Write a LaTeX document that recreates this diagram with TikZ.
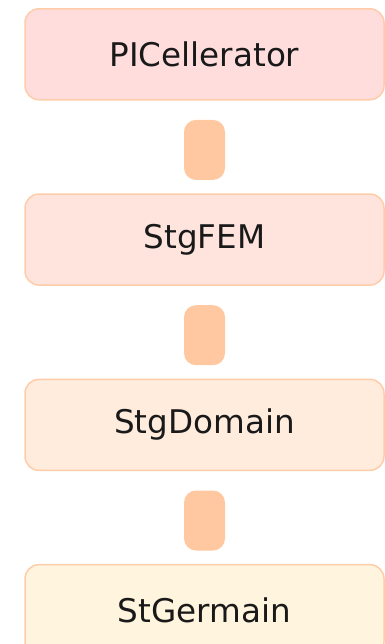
\documentclass[tikz,border=0pt]{standalone}
\usepackage{fontspec}
\setmainfont{DejaVu Sans}
\usetikzlibrary{positioning}
\definecolor{layeredge}{RGB}{255,204,170}
\definecolor{linkpeach}{RGB}{255,200,160}
\definecolor{fillrose}{RGB}{255,221,221}
\definecolor{fillsalmon}{RGB}{255,228,221}
\definecolor{fillapricot}{RGB}{255,236,221}
\definecolor{fillcream}{RGB}{255,244,221}

\begin{document}
\begin{tikzpicture}[font=\fontsize{16.3}{20}\selectfont, node distance=9.5pt]
      \tikzstyle{layer}=[rectangle,rounded corners=7pt,draw=layeredge,line width=0.75pt,inner sep=0pt,minimum width=179.5pt,minimum height=45.5pt,text=black!90]
      \tikzstyle{link}=[rectangle,rounded corners=6pt,fill=linkpeach,inner sep=0pt,minimum width=20.5pt,minimum height=30pt]
      \useasboundingbox (0,0) rectangle (192.5pt,-322pt);

      % library stack
      \node[layer,fill=fillrose,anchor=north] (picell) at (102.25pt,-4pt) {PICellerator};
      \node[link,below=of picell] (link1) {};
      \node[layer,fill=fillsalmon,below=6.5pt of link1] (stgfem) {StgFEM};
      \node[link,below=of stgfem] (link2) {};
      \node[layer,fill=fillapricot,below=6.5pt of link2] (stgdomain) {StgDomain};
      \node[link,below=of stgdomain] (link3) {};
      \node[layer,fill=fillcream,below=6.5pt of link3] (stgermain) {StGermain};
    \end{tikzpicture}
\end{document}
